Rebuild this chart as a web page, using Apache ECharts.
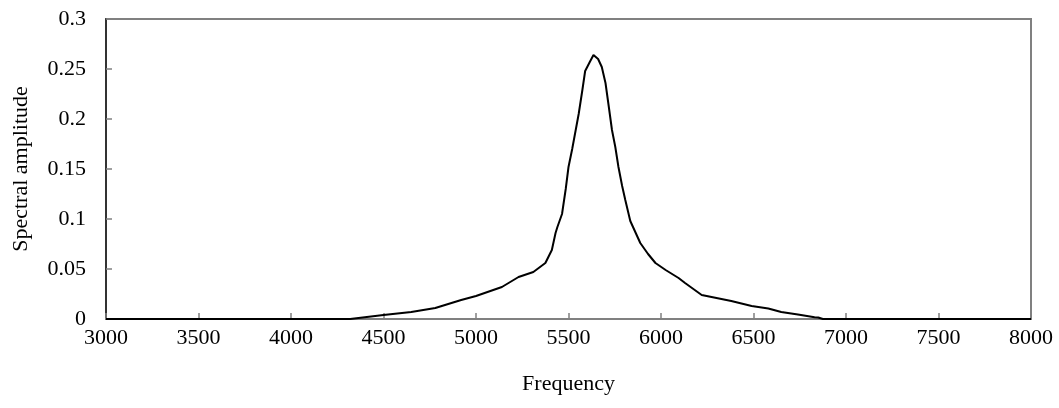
<!DOCTYPE html>
<html>
<head>
<meta charset="utf-8">
<script src="https://cdn.jsdelivr.net/npm/echarts@6/dist/echarts.min.js"></script>
<style>
  html, body { margin: 0; padding: 0; background: #fff; }
  #main { width: 1059px; height: 408px; }
</style>
</head>
<body>
<div id="main"></div>
<script>
// spectrum
var freqList = [3000, 4320, 4500, 4650, 4780, 4920, 5000, 5140, 5230, 5310, 5375, 5410, 5430, 5440,
    5465, 5485, 5500, 5520, 5555, 5575, 5590, 5615, 5635, 5645, 5660, 5680, 5700, 5718, 5735,
    5753, 5770, 5790, 5807, 5834, 5888, 5930, 5970, 6025, 6095, 6130, 6220, 6300, 6380, 6490,
    6580, 6650, 6740, 6830, 6850, 6875, 8000];
var ampList = [0, 0, 0.004, 0.007, 0.011, 0.019, 0.023, 0.032, 0.042, 0.047, 0.056, 0.069, 0.086, 0.092,
    0.105, 0.13, 0.152, 0.17, 0.205, 0.229, 0.248, 0.257, 0.264, 0.264, 0.26, 0.252, 0.236, 0.212, 0.189,
    0.172, 0.152, 0.133, 0.119, 0.098, 0.076, 0.065, 0.056, 0.049, 0.041, 0.036, 0.024, 0.021, 0.018, 0.013,
    0.0105, 0.007, 0.0045, 0.0018, 0.0015, 0, 0];
var xTicks = [3000, 8000, 500];
var yTicks = [0, 0.3, 0.05];

var seriesData = [];
for (var i = 0; i < freqList.length; i++) {
    seriesData.push([freqList[i], ampList[i]]);
}

var FONT = '"Liberation Serif", "Times New Roman", serif';
var myChart = echarts.init(document.getElementById('main'));
var option = {
    animation: false,
    grid: {
        show: true,
        left: 106,
        right: 28,
        top: 19,
        bottom: 89,
        borderColor: '#808080',
        borderWidth: 2
    },
    xAxis: {
        type: 'value',
        min: xTicks[0],
        max: xTicks[1],
        interval: xTicks[2],
        name: 'Frequency',
        nameLocation: 'middle',
        nameGap: 54,
        nameTextStyle: { color: '#000', fontFamily: FONT, fontSize: 22 },
        axisLine: { lineStyle: { color: '#808080', width: 2 } },
        axisTick: { inside: true, length: 6, lineStyle: { color: '#808080', width: 1.5 } },
        axisLabel: {
            color: '#000', fontFamily: FONT, fontSize: 22, margin: 8,
            formatter: function (v) { return String(v); }
        },
        splitLine: { show: false }
    },
    yAxis: {
        type: 'value',
        min: yTicks[0],
        max: yTicks[1],
        interval: yTicks[2],
        name: 'Spectral amplitude',
        nameLocation: 'middle',
        nameGap: 74,
        nameTextStyle: { color: '#000', fontFamily: FONT, fontSize: 22 },
        axisLine: { show: true, lineStyle: { color: '#333', width: 2 } },
        axisTick: { show: true, inside: true, length: 6, lineStyle: { color: '#808080', width: 1.5 } },
        axisLabel: {
            color: '#000', fontFamily: FONT, fontSize: 22, margin: 20, padding: [6, 0, 0, 0],
            formatter: function (v) { return String(v); }
        },
        splitLine: { show: false }
    },
    series: [{
        type: 'line',
        data: seriesData,
        showSymbol: false,
        smooth: false,
        lineStyle: { color: '#000', width: 2 },
        itemStyle: { color: '#000' }
    }]
};
myChart.setOption(option);
</script>
</body>
</html>
